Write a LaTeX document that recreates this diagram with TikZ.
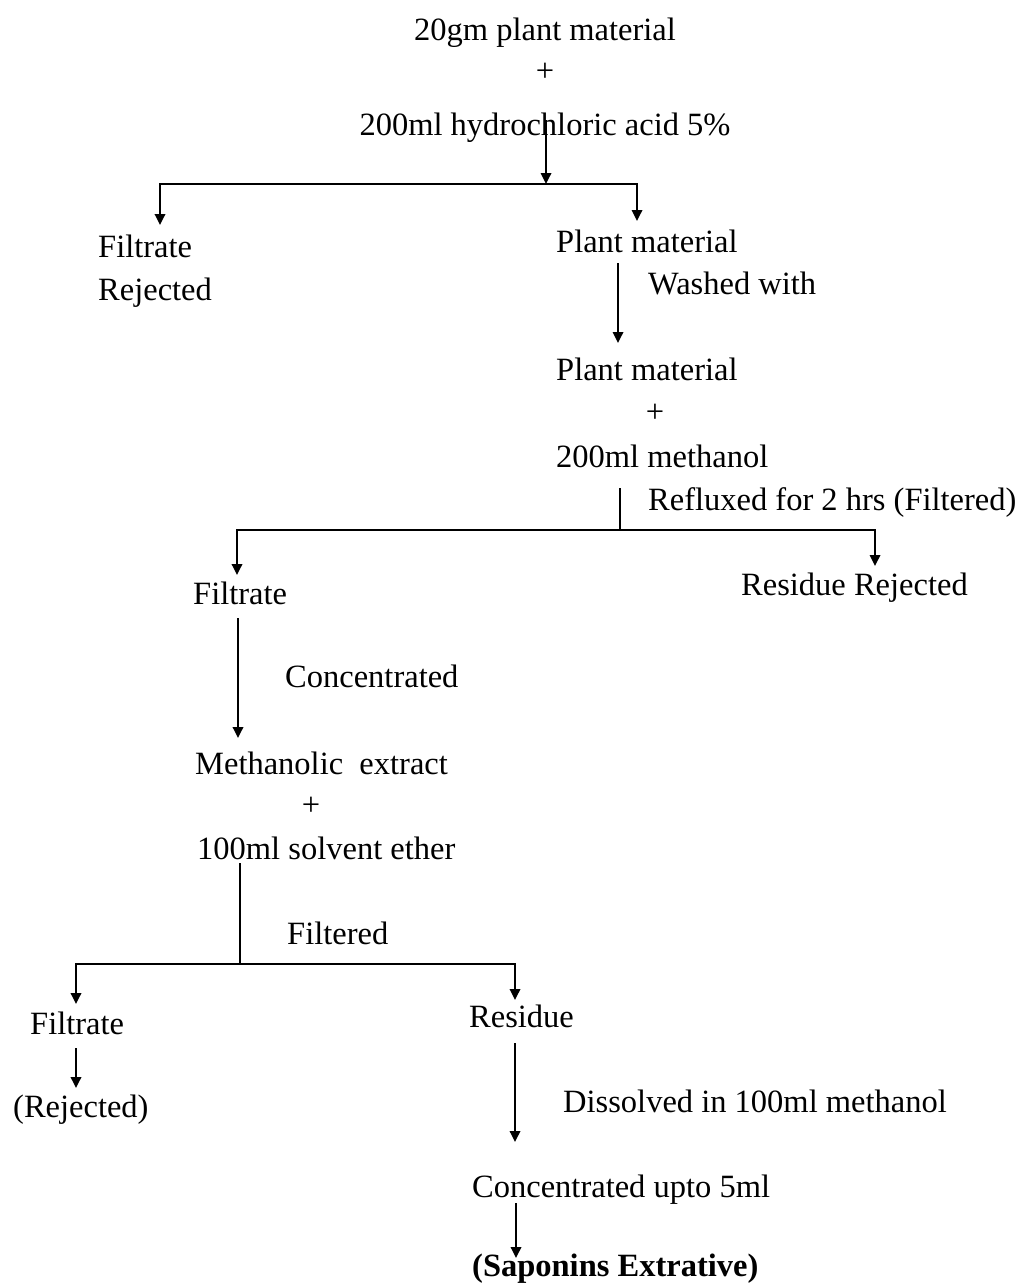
\documentclass[tikz,border=0pt]{standalone}
\usepackage{fontspec}
\setmainfont{Liberation Serif}
\usetikzlibrary{arrows.meta}
\begin{document}
\begin{tikzpicture}[x=1pt,y=-1pt,
  txt/.style={font=\fontsize{32.5}{39}\selectfont, inner sep=0pt, anchor=base west},
  ctr/.style={txt, anchor=base},
  plus/.style={txt, anchor=center},
  ln/.style={line width=1.8pt},
  arr/.style={ln, -{Triangle[length=11pt,width=10.5pt]}}]
\useasboundingbox (0,0) rectangle (1027,1288);

% texts
\node[ctr]  (t1)  at (545,40)   {20gm plant material};
\node[plus] (p1)  at (545,72)   {+};
\node[ctr]  (t2)  at (545,135)  {200ml hydrochloric acid 5\%};
\node[txt]  (f1)  at (98,257)   {Filtrate};
\node[txt]  (r1)  at (98,300)   {Rejected};
\node[txt]  (pm1) at (556,252)  {Plant material};
\node[txt]  (w1)  at (648,294)  {Washed with};
\node[txt]  (pm2) at (556,380)  {Plant material};
\node[plus] (p2)  at (655,413)  {+};
\node[txt]  (m1)  at (556,467)  {200ml methanol};
\node[txt]  (rf)  at (648,510)  {Refluxed for 2 hrs (Filtered)};
\node[txt]  (f2)  at (193,604)  {Filtrate};
\node[txt]  (rr)  at (741,595)  {Residue Rejected};
\node[txt]  (cc)  at (285,687)  {Concentrated};
\node[txt]  (me)  at (195,774)  {Methanolic\ \ extract};
\node[plus] (p3)  at (311,806)  {+};
\node[txt]  (se)  at (197,859)  {100ml solvent ether};
\node[txt]  (fd)  at (287,944)  {Filtered};
\node[txt]  (f3)  at (30,1034)  {Filtrate};
\node[txt]  (rs)  at (469,1027) {Residue};
\node[txt]  (rj)  at (13,1117)  {(Rejected)};
\node[txt]  (ds)  at (563,1112) {Dissolved in 100ml methanol};
\node[txt]  (cu)  at (472,1197) {Concentrated upto 5ml};
\node[txt, font=\fontsize{32.5}{39}\selectfont\bfseries] (sx) at (472,1276) {(Saponins Extrative)};

% connector points
\coordinate (a0)  at (546,120);
\coordinate (j1)  at (546,184);
\coordinate (j1L) at (160,184);
\coordinate (j1R) at (637,184);
\coordinate (e1L) at (160,225);
\coordinate (e1R) at (637,221);

\coordinate (a1s) at (618,263);
\coordinate (a1e) at (618,343);

\coordinate (a2s) at (620,488);
\coordinate (j2)  at (620,530);
\coordinate (j2L) at (237,530);
\coordinate (j2R) at (875,530);
\coordinate (e2L) at (237,575);
\coordinate (e2R) at (875,566);

\coordinate (a3s) at (238,618);
\coordinate (a3e) at (238,738);

\coordinate (a4s) at (240,863);
\coordinate (j3)  at (240,964);
\coordinate (j3L) at (76,964);
\coordinate (j3R) at (515,964);
\coordinate (e3L) at (76,1004);
\coordinate (e3R) at (515,1000);

\coordinate (a5s) at (76,1048);
\coordinate (a5e) at (76,1088);
\coordinate (a6s) at (515,1043);
\coordinate (a6e) at (515,1142);
\coordinate (a7s) at (516,1203);
\coordinate (a7e) at (516,1258);

% connectors
\draw[arr] (a0) -- (j1);
\draw[arr] (j1) -- (j1L) -- (e1L);
\draw[arr] (j1) -- (j1R) -- (e1R);
\draw[arr] (a1s) -- (a1e);
\draw[ln]  (a2s) -- (j2);
\draw[arr] (j2) -- (j2L) -- (e2L);
\draw[arr] (j2) -- (j2R) -- (e2R);
\draw[arr] (a3s) -- (a3e);
\draw[ln]  (a4s) -- (j3);
\draw[arr] (j3) -- (j3L) -- (e3L);
\draw[arr] (j3) -- (j3R) -- (e3R);
\draw[arr] (a5s) -- (a5e);
\draw[arr] (a6s) -- (a6e);
\draw[arr] (a7s) -- (a7e);
\end{tikzpicture}
\end{document}
